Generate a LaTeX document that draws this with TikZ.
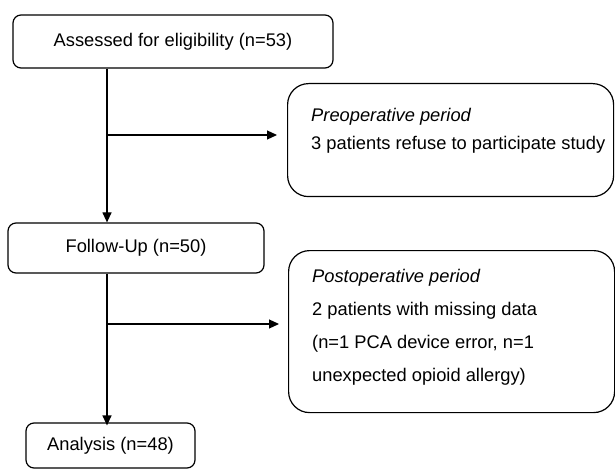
\documentclass[tikz,border=0pt]{standalone}
\usepackage{fontspec}
\setmainfont{Liberation Sans}
\usetikzlibrary{arrows.meta}

\tikzset{
    stage/.style={draw, line width=1.2pt, rounded corners=8pt, inner sep=0pt,
        font=\fontsize{18.3}{22}\selectfont},
    period/.style={draw, line width=1.2pt, rounded corners=21pt, inner sep=0pt,
        anchor=north west},
    periodtext/.style={inner sep=0pt, anchor=north west, align=left},
    flow/.style={line width=1.2pt, -{Triangle[length=10pt,width=9pt]}}
}

\begin{document}
\begin{tikzpicture}[x=1pt, y=-1pt]
    \useasboundingbox (0,0) rectangle (615,470);
    \node[stage, minimum width=320pt, minimum height=53pt] (elig) at (173,41.5) {Assessed for eligibility (n=53)};
    \node[stage, minimum width=256pt, minimum height=50pt] (follow) at (136,248) {Follow-Up (n=50)};
    \node[stage, minimum width=169pt, minimum height=45pt] (analysis) at (110.5,445.5) {Analysis (n=48)};
    \node[period, minimum width=326pt, minimum height=113pt] (pre) at (287,83) {};
    \node[period, minimum width=326pt, minimum height=162pt] (post) at (288,250) {};
    \node[periodtext, font=\fontsize{18.3}{28}\selectfont] (pretext) at (311,108.5)
        {\textit{Preoperative period}\\3 patients refuse to participate study};
    \node[periodtext, font=\fontsize{18.3}{33}\selectfont] (posttext) at (312,269.5)
        {\textit{Postoperative period}\\2 patients with missing data\\(n=1 PCA device error, n=1\\unexpected opioid allergy)};
    \coordinate (spine) at (107,0);
    \draw[flow] (spine |- elig.south) -- (spine |- follow.north);
    \draw[flow] (spine |- follow.south) -- ([yshift=-3pt]spine |- analysis.north);
    \draw[flow] (spine |- 0,135) -- ([xshift=-10pt]pre.west |- 0,135);
    \draw[flow] (spine |- 0,324) -- ([xshift=-9pt]post.west |- 0,324);
\end{tikzpicture}
\end{document}
